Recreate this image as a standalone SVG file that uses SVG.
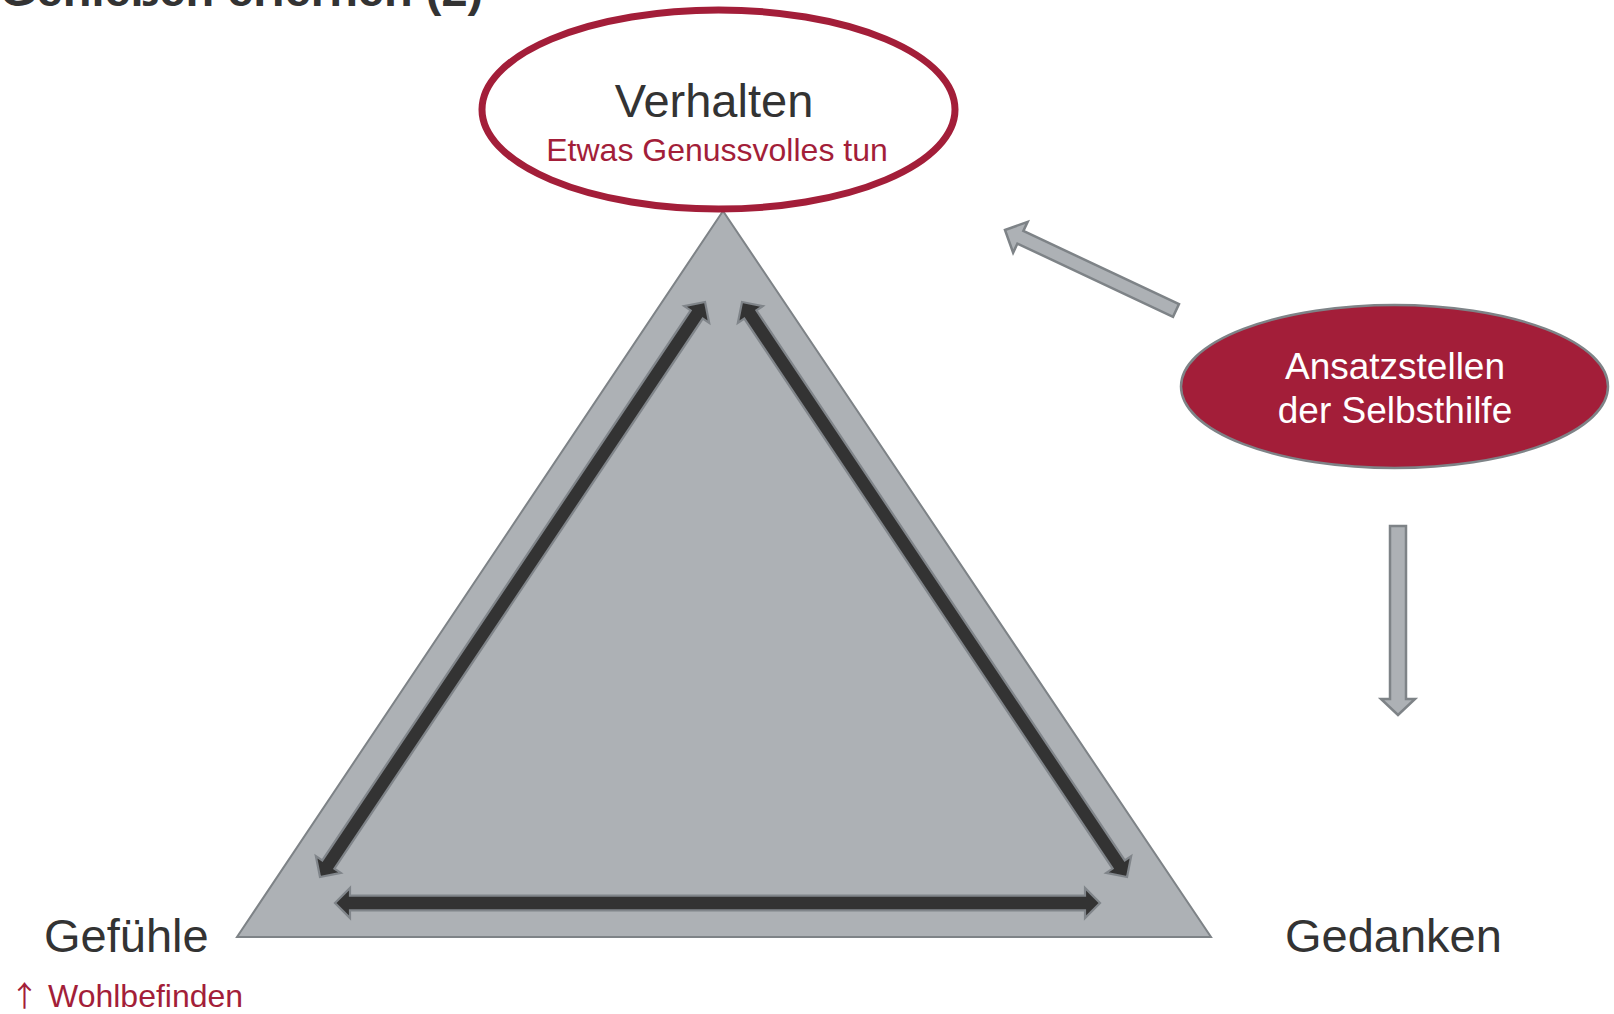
<svg xmlns="http://www.w3.org/2000/svg" width="1614" height="1014" viewBox="0 0 1614 1014">
  <style>
    text { font-family: "Liberation Sans", Arial, sans-serif; }
    .title { font-size: 47px; font-weight: bold; fill: #333333; }
    .label { font-size: 47px; fill: #333333; }
    .sub { font-size: 32px; fill: #A31E39; }
    .inv { font-size: 37px; fill: #ffffff; text-anchor: middle; }
    .cycle { fill: #333333; stroke: #80858A; stroke-width: 2.2; stroke-linejoin: miter; }
    .block { fill: #ADB1B5; stroke: #7E8387; stroke-width: 2.5; stroke-linejoin: miter; }
  </style>

  <rect width="1614" height="1014" fill="#ffffff"/>

  <!-- heading, mostly above the visible area -->
  <text class="title" x="0" y="6">Genießen erlernen (2)</text>

  <!-- triangle of the three areas -->
  <g id="triangle">
    <polygon points="723,211 237,937 1211,937" fill="#ADB1B5" stroke="#7E8387" stroke-width="2"/>
  </g>

  <g id="connectors">
    <!-- two-headed arrows inside the triangle -->
    <path class="cycle" transform="translate(320,877) rotate(-56.19)"
          d="M0,0 L15,-15 L15,-7.3 L677,-7.3 L677,-15 L692,0 L677,15 L677,7.3 L15,7.3 L15,15 Z"/>
    <path class="cycle" transform="translate(742,302) rotate(56.19)"
          d="M0,0 L15,-15 L15,-7.3 L677,-7.3 L677,-15 L692,0 L677,15 L677,7.3 L15,7.3 L15,15 Z"/>
    <path class="cycle" transform="translate(335,903)"
          d="M0,0 L15,-15 L15,-7.3 L750,-7.3 L750,-15 L765,0 L750,15 L750,7.3 L15,7.3 L15,15 Z"/>

    <!-- block arrows from the self-help node -->
    <path class="block" transform="translate(1005,230) rotate(25.2)"
          d="M0,0 L17,-17 L17,-7 L189,-7 L189,7 L17,7 L17,17 Z"/>
    <path class="block"
          d="M1390,526 L1406,526 L1406,699 L1415,699 L1398,715 L1381,699 L1390,699 Z"/>
  </g>

  <g id="verhalten">
    <ellipse cx="718.5" cy="109.5" rx="236.5" ry="99.5" fill="#ffffff" stroke="#A31E39" stroke-width="7"/>
    <text class="label" x="714" y="117" text-anchor="middle">Verhalten</text>
    <text class="sub" x="717" y="161" text-anchor="middle">Etwas Genussvolles tun</text>
  </g>

  <g id="gefuehle">
    <text class="label" x="44" y="952">Gefühle</text>
    <text class="sub" y="1007"><tspan x="10" style="font-family:'Noto Sans CJK SC', sans-serif; font-size:29px">↑</tspan><tspan x="48">Wohlbefinden</tspan></text>
  </g>

  <g id="gedanken">
    <text class="label" x="1285" y="952">Gedanken</text>
  </g>

  <g id="selbsthilfe">
    <ellipse cx="1394.5" cy="386.5" rx="213.5" ry="81.5" fill="#A31E39" stroke="#7E8387" stroke-width="2.5"/>
    <text class="inv" x="1395" y="379">Ansatzstellen</text>
    <text class="inv" x="1395" y="423">der Selbsthilfe</text>
  </g>
</svg>
